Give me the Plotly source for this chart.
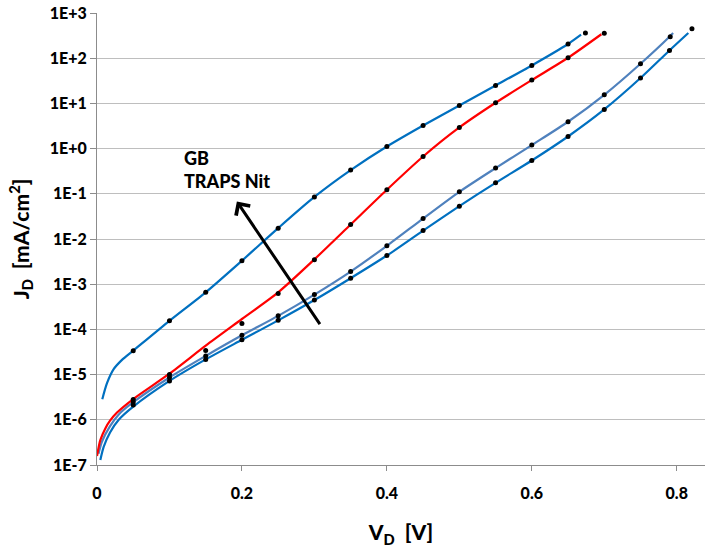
import plotly.graph_objects as go

# ---- data (V in volts, J in mA/cm^2 as log10 values) ----
# Curve A (top, blue)
a_line_v = [0.0073, 0.0138, 0.023, 0.0345, 0.05, 0.1, 0.15, 0.2, 0.25, 0.3, 0.35, 0.4,
            0.45, 0.5, 0.55, 0.6, 0.65, 0.668]
a_line_logj = [-5.545, -5.19, -4.88, -4.675, -4.47, -3.81, -3.18, -2.48, -1.76, -1.07,
               -0.476, 0.047, 0.512, 0.955, 1.397, 1.84, 2.314, 2.52]
a_dot_v = [0.05, 0.1, 0.15, 0.2, 0.25, 0.3, 0.35, 0.4, 0.45, 0.5, 0.55, 0.6, 0.65, 0.674]
a_dot_logj = [-4.47, -3.81, -3.18, -2.48, -1.76, -1.07, -0.476, 0.047, 0.512, 0.955,
              1.397, 1.84, 2.314, 2.557]

# Curve B (red)
b_line_v = [0.0, 0.0046, 0.0115, 0.018, 0.0276, 0.05, 0.1, 0.15, 0.2, 0.25, 0.3,
            0.35, 0.4, 0.45, 0.5, 0.55, 0.6, 0.65, 0.696]
b_line_logj = [-6.80, -6.45, -6.19, -6.02, -5.84, -5.54, -4.98, -4.36, -3.77,
               -3.18, -2.45, -1.68, -0.91, -0.175, 0.468, 1.014, 1.517, 2.01, 2.53]
b_dot_v = [0.05, 0.1, 0.15, 0.2, 0.25, 0.3, 0.35, 0.4, 0.45, 0.5, 0.55, 0.6, 0.65, 0.7]
b_dot_logj = [-5.55, -5.0, -4.465, -3.87, -3.207, -2.46, -1.68, -0.91, -0.175, 0.468,
              1.014, 1.517, 2.01, 2.55]

# Curve C (steel blue)
c_line_v = [0.002, 0.0069, 0.018, 0.03, 0.05, 0.1, 0.15, 0.2, 0.25, 0.3, 0.35, 0.4,
            0.45, 0.5, 0.55, 0.6, 0.65, 0.7, 0.75, 0.79, 0.795]
c_line_logj = [-6.75, -6.48, -6.14, -5.88, -5.61, -5.063, -4.587, -4.13, -3.70, -3.23,
               -2.72, -2.15, -1.547, -0.956, -0.431, 0.078, 0.594, 1.19, 1.878, 2.475,
               2.557]
c_dot_v = [0.05, 0.1, 0.15, 0.2, 0.25, 0.3, 0.35, 0.4, 0.45, 0.5, 0.55, 0.6, 0.65, 0.7,
           0.75, 0.791]
c_dot_logj = [-5.605, -5.063, -4.587, -4.13, -3.70, -3.23, -2.72, -2.15, -1.547, -0.956,
              -0.431, 0.078, 0.594, 1.19, 1.878, 2.475]

# Curve D (blue, lowest)
d_line_v = [0.0046, 0.0092, 0.018, 0.03, 0.05, 0.1, 0.15, 0.2, 0.25, 0.3, 0.35,
            0.4, 0.45, 0.5, 0.55, 0.6, 0.65, 0.7, 0.75, 0.79, 0.816]
d_line_logj = [-6.89, -6.60, -6.28, -6.00, -5.71, -5.14, -4.664, -4.23, -3.80,
               -3.35, -2.867, -2.366, -1.813, -1.273, -0.757, -0.263, 0.268, 0.866,
               1.561, 2.172, 2.557]
d_dot_v = [0.05, 0.1, 0.15, 0.2, 0.25, 0.3, 0.35, 0.4, 0.45, 0.5, 0.55, 0.6, 0.65, 0.7,
           0.75, 0.79, 0.821]
d_dot_logj = [-5.67, -5.14, -4.664, -4.23, -3.80, -3.35, -2.867, -2.366, -1.813, -1.273,
              -0.757, -0.263, 0.268, 0.866, 1.561, 2.172, 2.652]

y_tick_vals_log = [-7, -6, -5, -4, -3, -2, -1, 0, 1, 2, 3]
y_tick_text = ["1E-7", "1E-6", "1E-5", "1E-4", "1E-3", "1E-2", "1E-1",
               "1E+0", "1E+1", "1E+2", "1E+3"]
x_tick_vals = [0, 0.2, 0.4, 0.6, 0.8]
x_tick_text = ["0", "0.2", "0.4", "0.6", "0.8"]

# arrow (tail -> head), log10 J
arrow_tail = (0.309, -3.916)
arrow_head = (0.193, -1.171)

BLUE = "#0070C0"
STEEL = "#4F81BD"
RED = "#FF0000"
FONT = "Lato"
W = 900


def p10(vals):
    return [10 ** v for v in vals]


fig = go.Figure()
for lv, lj, col in [(c_line_v, c_line_logj, STEEL), (d_line_v, d_line_logj, BLUE),
                    (b_line_v, b_line_logj, RED), (a_line_v, a_line_logj, BLUE)]:
    fig.add_trace(go.Scatter(x=lv, y=p10(lj), mode="lines",
                             line=dict(color=col, width=2.2, shape="spline", smoothing=0.7),
                             showlegend=False, hoverinfo="skip"))
for dv, dj in [(a_dot_v, a_dot_logj), (b_dot_v, b_dot_logj),
               (c_dot_v, c_dot_logj), (d_dot_v, d_dot_logj)]:
    fig.add_trace(go.Scatter(x=dv, y=p10(dj), mode="markers",
                             marker=dict(color="black", size=5),
                             showlegend=False, hoverinfo="skip"))

fig.add_annotation(x=arrow_head[0], y=arrow_head[1], ax=arrow_tail[0], ay=arrow_tail[1],
                   xref="x", yref="y", axref="x", ayref="y", text="",
                   showarrow=True, arrowhead=4, arrowsize=1.1, arrowwidth=3,
                   arrowcolor="black")
fig.add_annotation(x=0.1175, y=0.09, xref="x", yref="y", xanchor="left", yanchor="top",
                   text="GB<br>TRAPS Nit", showarrow=False, align="left",
                   font=dict(family=FONT, size=18, color="black", weight=W))

fig.update_layout(
    width=705, height=557,
    margin=dict(l=97, r=0, t=13, b=92),
    paper_bgcolor="white", plot_bgcolor="white",
    font=dict(family=FONT, color="black", weight=W),
    xaxis=dict(range=[0, 0.839], tickvals=x_tick_vals, ticktext=x_tick_text,
               showgrid=False, zeroline=False, showline=True, linecolor="#8C8C8C",
               linewidth=1, ticks="outside", ticklen=5, tickcolor="#8C8C8C",
               ticklabelstandoff=9,
               tickfont=dict(family=FONT, size=16, color="black", weight=W),
               title=dict(text="V<sub>D</sub>  [V]", standoff=24,
                          font=dict(family=FONT, size=21, color="black", weight=W))),
    yaxis=dict(type="log", range=[-7, 3], tickvals=p10(y_tick_vals_log),
               ticktext=y_tick_text,
               showgrid=True, gridcolor="#BEBEBE", gridwidth=1, zeroline=False,
               showline=True, linecolor="#8C8C8C", linewidth=1, ticks="outside",
               ticklen=6, tickcolor="#8C8C8C",
               tickfont=dict(family=FONT, size=16, color="black", weight=W),
               title=dict(text="J<sub>D</sub>  [mA/cm<sup>2</sup>]", standoff=14,
                          font=dict(family=FONT, size=21, color="black", weight=W))),
)

fig.write_html("out.html")
